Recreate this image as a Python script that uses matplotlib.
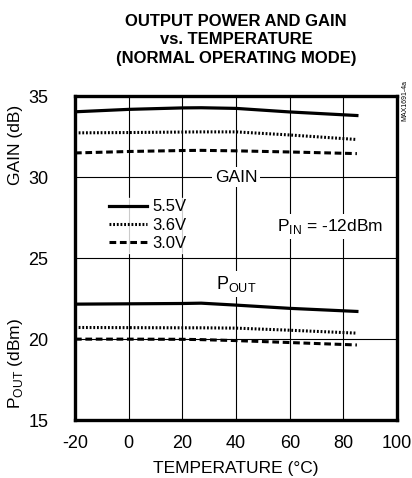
import matplotlib
matplotlib.use("Agg")
import matplotlib.pyplot as plt
import matplotlib.transforms as mtransforms

plt.rcParams['font.family'] = ['Liberation Sans', 'DejaVu Sans']
plt.rcParams['axes.unicode_minus'] = False

# temperature points (degC)
temp = [-20, 0, 20, 27, 40, 60, 85]

# gain (dB)
gain_55 = [34.03, 34.18, 34.27, 34.28, 34.24, 34.02, 33.80]
gain_36 = [32.73, 32.75, 32.78, 32.79, 32.79, 32.60, 32.32]
gain_30 = [31.49, 31.58, 31.64, 31.65, 31.62, 31.55, 31.45]

# output power (dBm)
pout_55 = [22.16, 22.18, 22.20, 22.22, 22.10, 21.90, 21.71]
pout_36 = [20.72, 20.71, 20.70, 20.70, 20.68, 20.55, 20.37]
pout_30 = [20.00, 20.00, 19.99, 19.97, 19.91, 19.79, 19.64]

series_labels = ['5.5V', '3.6V', '3.0V']
xticks = [-20, 0, 20, 40, 60, 80, 100]
yticks = [15, 20, 25, 30, 35]

fig = plt.figure(figsize=(4.12, 4.78), dpi=100)
ax = fig.add_axes([0.182, 0.121, 0.782, 0.678])

styles = [dict(ls='-', lw=2.3),
          dict(ls=(0, (0.6, 0.6)), lw=2.2),
          dict(ls=(0, (2.2, 1.2)), lw=2.2)]

gains = [gain_55, gain_36, gain_30]
pouts = [pout_55, pout_36, pout_30]
for g, p, st, lab in zip(gains, pouts, styles, series_labels):
    ax.plot(temp, g, color='black', label=lab, **st)
    ax.plot(temp, p, color='black', **st)

ax.set_xlim(-20, 100)
ax.set_ylim(15, 35)
ax.set_xticks(xticks)
ax.set_yticks(yticks)
ax.tick_params(length=0, labelsize=13)
ax.tick_params(axis='x', pad=11)
ax.tick_params(axis='y', pad=19)
ax.grid(True, color='black', lw=0.8)
ax.set_axisbelow(True)
for s in ax.spines.values():
    s.set_linewidth(2.4)

leg = ax.legend(loc='upper left', bbox_to_anchor=(0.075, 0.712), frameon=True,
                fontsize=12, handlelength=2.3, handletextpad=0.3,
                labelspacing=0.2, borderpad=0.1, fancybox=False)
leg.get_frame().set_edgecolor('white')
leg.get_frame().set_facecolor('white')

wbox = dict(facecolor='white', edgecolor='none', pad=2)
ax.text(40, 30, 'GAIN', ha='center', va='center', fontsize=12.5, bbox=wbox)
ax.text(40, 23.4, r'P$_{\mathregular{OUT}}$', ha='center', va='center',
        fontsize=13, bbox=wbox)
ax.text(75, 26.95, r'P$_{\mathregular{IN}}$ = -12dBm', ha='center', va='center',
        fontsize=12.5, bbox=wbox)

trans = mtransforms.blended_transform_factory(ax.transAxes, ax.transData)
ax.text(-0.185, 32.0, 'GAIN (dB)', rotation=90, ha='center', va='center',
        fontsize=12.5, transform=trans)
ax.text(-0.185, 18.5, r'P$_{\mathregular{OUT}}$ (dBm)', rotation=90, ha='center',
        va='center', fontsize=12.5, transform=trans)
ax.set_xlabel('TEMPERATURE (°C)', fontsize=12.5, labelpad=6)

fig.text(0.983, 0.79, 'MAX1691-4a', rotation=90, ha='center', va='center',
         fontsize=5)

fig.text(0.573, 0.917, 'OUTPUT POWER AND GAIN\nvs. TEMPERATURE\n(NORMAL OPERATING MODE)',
         ha='center', va='center', fontsize=12, fontweight='bold',
         linespacing=1.3)

fig.savefig('out.png', dpi=100)
